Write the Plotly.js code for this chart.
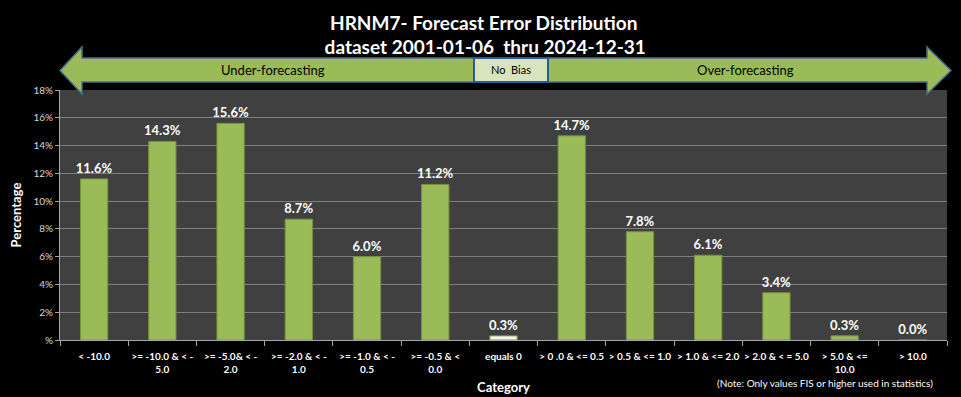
<!DOCTYPE html>
<html>
<head>
<meta charset="utf-8">
<script src="https://cdn.plot.ly/plotly-3.0.1.min.js"></script>
<style>html,body{margin:0;padding:0;background:#000;} #chart{width:961px;height:397px;}</style>
</head>
<body>
<div id="chart"></div>
<script>
const categories = ["< -10.0", ">= -10.0 & < -<br>5.0", ">= -5.0& < -<br>2.0", ">= -2.0 & < -<br>1.0", ">= -1.0 & < -<br>0.5", ">= -0.5 & <<br>0.0", "equals 0", "> 0 .0 & <= 0.5", "> 0.5 & <= 1.0", "> 1.0 & <= 2.0", "> 2.0 & < = 5.0", "> 5.0 & <=<br>10.0", "> 10.0"];
const percentages = [11.6, 14.3, 15.6, 8.7, 6.0, 11.2, 0.3, 14.7, 7.8, 6.1, 3.4, 0.3, 0.0];
const yTickVals = [0, 2, 4, 6, 8, 10, 12, 14, 16, 18];
const yTickText = ["%", "2%", "4%", "6%", "8%", "10%", "12%", "14%", "16%", "18%"];
const titleLines = ["HRNM7- Forecast Error Distribution", " dataset 2001-01-06  thru 2024-12-31"];
const bandLabels = ["Under-forecasting", "No  Bias", "Over-forecasting"];
const noteText = "(Note: Only values FIS or higher used in statistics)";

const W = 961, H = 397;
const L = 60, R = 947, T = 90, B = 340;
const px = x => (x - L) / (R - L);
const py = y => (B - y) / (B - T);
const P = (x, y) => px(x).toFixed(5) + "," + py(y).toFixed(5);

const green = "#9BBB59";
const barColors = percentages.map((v, i) => categories[i] === "equals 0" ? "#F4F7EE" : green);

const FONT = "Lato, 'Open Sans', sans-serif";

const trace = {
  type: "bar",
  x: categories,
  y: percentages,
  text: percentages.map(v => v.toFixed(1) + "%"),
  textposition: "outside",
  constraintext: "none",
  cliponaxis: false,
  textfont: {family: FONT, size: 13, color: "#FFFFFF", weight: "bold"},
  marker: {color: barColors, line: {color: "#76923C", width: 1}},
  hoverinfo: "none"
};

const leftArrow = "M" + P(60, 70.5) + " L" + P(82, 47) + " L" + P(82, 58) + " L" + P(474, 58) +
  " L" + P(474, 82) + " L" + P(82, 82) + " L" + P(82, 94) + " Z";
const rightArrow = "M" + P(548, 58) + " L" + P(927, 58) + " L" + P(927, 47) + " L" + P(951, 70.5) +
  " L" + P(927, 94) + " L" + P(927, 82) + " L" + P(548, 82) + " Z";

const layout = {
  width: W, height: H,
  paper_bgcolor: "#000000",
  plot_bgcolor: "#404040",
  margin: {l: L, r: W - R, t: T, b: H - B, pad: 0},
  bargap: 0.6,
  showlegend: false,
  font: {family: FONT, color: "#FFFFFF"},
  xaxis: {
    type: "category",
    tickson: "boundaries",
    ticks: "outside", ticklen: 5, tickcolor: "#A6A6A6",
    showline: true, linecolor: "#A6A6A6", linewidth: 1,
    showgrid: false,
    ticklabelstandoff: 7,
    tickfont: {family: FONT, size: 10, color: "#FFFFFF", weight: "bold"},
    tickangle: 0,
    title: {text: "<b>Category</b>", font: {family: FONT, size: 13, color: "#FFFFFF"}, standoff: 8},
    fixedrange: true
  },
  yaxis: {
    range: [0, 18],
    tickvals: yTickVals, ticktext: yTickText,
    ticks: "outside", ticklen: 4, tickcolor: "#A6A6A6",
    showline: true, linecolor: "#A6A6A6", linewidth: 1,
    showgrid: true, gridcolor: "#7F7F7F", gridwidth: 1,
    zeroline: false,
    tickfont: {family: FONT, size: 10, color: "#D9D9D9"},
    title: {text: "<b>Percentage</b>", font: {family: FONT, size: 13, color: "#FFFFFF"}, standoff: 8},
    fixedrange: true
  },
  shapes: [
    {type: "path", xref: "paper", yref: "paper", path: leftArrow, fillcolor: green,
     line: {color: "#4A6C8C", width: 1.5}, layer: "above"},
    {type: "path", xref: "paper", yref: "paper", path: rightArrow, fillcolor: green,
     line: {color: "#4A6C8C", width: 1.5}, layer: "above"},
    {type: "rect", xref: "paper", yref: "paper", x0: px(474), x1: px(548), y0: py(82), y1: py(58),
     fillcolor: "#D7E4BD", line: {color: "#1F5FA0", width: 2}, layer: "above"}
  ],
  annotations: [
    {xref: "paper", yref: "paper", x: px(483), y: py(22), text: "<b>" + titleLines[0] + "</b>", showarrow: false,
     font: {family: FONT, size: 19, color: "#FFFFFF"}, xanchor: "center", yanchor: "middle"},
    {xref: "paper", yref: "paper", x: px(483), y: py(46), text: "<b>" + titleLines[1] + "</b>", showarrow: false,
     font: {family: FONT, size: 19, color: "#FFFFFF"}, xanchor: "center", yanchor: "middle"},
    {xref: "paper", yref: "paper", x: px(273), y: py(70), text: bandLabels[0], showarrow: false,
     font: {family: FONT, size: 13, color: "#000000"}, xanchor: "center", yanchor: "middle"},
    {xref: "paper", yref: "paper", x: px(511), y: py(70), text: bandLabels[1], showarrow: false,
     font: {family: FONT, size: 11, color: "#000000"}, xanchor: "center", yanchor: "middle"},
    {xref: "paper", yref: "paper", x: px(745), y: py(70), text: bandLabels[2], showarrow: false,
     font: {family: FONT, size: 13, color: "#000000"}, xanchor: "center", yanchor: "middle"},
    {xref: "paper", yref: "paper", x: px(935), y: py(383), text: noteText, showarrow: false,
     font: {family: FONT, size: 10, color: "#FFFFFF"}, xanchor: "right", yanchor: "middle"}
  ]
};

Plotly.newPlot("chart", [trace], layout, {staticPlot: true, displayModeBar: false});
</script>
</body>
</html>
